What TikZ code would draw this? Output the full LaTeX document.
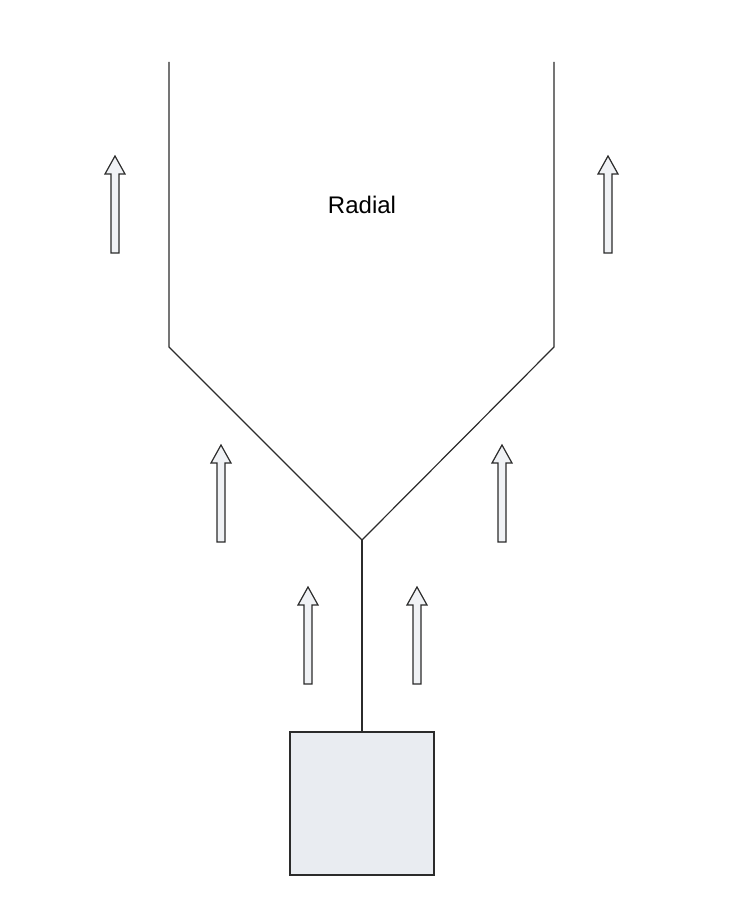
\documentclass[tikz,border=0pt]{standalone}
\usepackage{fontspec}
\setmainfont{Liberation Sans}
\definecolor{boxfill}{HTML}{E9ECF1}
\definecolor{linegray}{HTML}{2B2B2B}
\begin{document}
\begin{tikzpicture}[x=1pt,y=-1pt,
  wall/.style={draw=linegray,line width=1.2pt},
  flow/.style={draw=linegray,fill=boxfill!70,line width=1.2pt}]
\useasboundingbox (0,0) rectangle (754,909);
% the walls of the channel
\coordinate (fork) at (362,540);
\draw[wall] (169,62) -- (169,347) -- (fork) -- (554,347) -- (554,62);
% the source box and its stem
\node[wall,fill=boxfill,minimum width=144pt,minimum height=143pt,inner sep=0pt] (source) at (362,803.5) {};
\draw[wall] (fork) -- (source.north);
% the flow arrows
\foreach \x/\y in {115/156,608/156,221/445,502/445,308/587,417/587}
  \draw[flow] (\x,\y) -- ++(10,18) -- ++(-6,0) -- ++(0,79) -- ++(-8,0) -- ++(0,-79) -- ++(-6,0) -- cycle;
\node[font=\fontsize{24}{28}\selectfont] (label) at (362,205) {Radial};
\end{tikzpicture}
\end{document}
